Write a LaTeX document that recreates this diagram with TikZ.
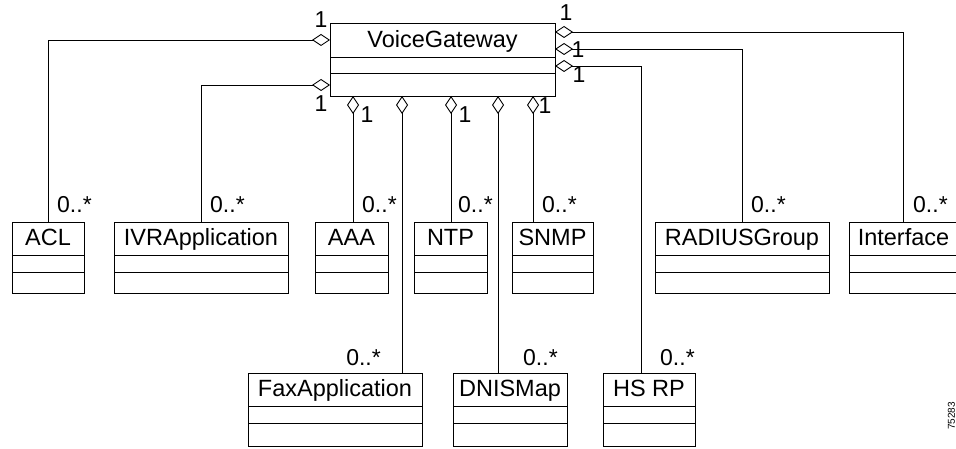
\documentclass[tikz,border=0pt]{standalone}
\usepackage{fontspec}
\setmainfont{Liberation Sans}
\usetikzlibrary{arrows.meta,calc}

% UML class with a name compartment and two empty compartments
% #1 node name, #2 x, #3 y (top left), #4 width, #5 height, #6 class name
\newcommand\umlclass[6]{%
  \node[classbox, minimum width=#4pt, minimum height=#5pt, anchor=north west] (#1) at (#2,#3) {};
  \draw[compline] ($(#1.north west)+(0,33)$) -- ($(#1.north east)+(0,33)$);
  \draw[compline] ($(#1.north west)+(0,50)$) -- ($(#1.north east)+(0,50)$);
  \node[classname, anchor=base] (#1-t) at ($(#1.north)+(0,23.5)$) {#6};
}

\tikzset{
  classbox/.style={draw, line width=0.9pt, inner sep=0pt, outer sep=0pt},
  compline/.style={line width=0.9pt},
  classname/.style={inner sep=0pt, font=\fontsize{23.5}{28}\selectfont},
  mult/.style={inner sep=0pt, font=\fontsize{23}{27}\selectfont},
  agg/.style={line width=0.9pt, -{Diamond[open, length=18pt, width=12pt, line width=0.9pt]}},
}

\begin{document}
\begin{tikzpicture}[x=1pt, y=-1pt]
\useasboundingbox (0,0) rectangle (956,449);

% central class
\node[classbox, minimum width=225pt, minimum height=73pt, anchor=north west] (vg) at (330,23) {};
\draw[compline] ($(vg.north west)+(0,34)$) -- ($(vg.north east)+(0,34)$);
\draw[compline] ($(vg.north west)+(0,50)$) -- ($(vg.north east)+(0,50)$);
\node[classname, anchor=base] (vg-t) at ($(vg.north)+(0,25)$) {VoiceGateway};

% first row of classes
\umlclass{acl}{12}{222}{72}{71}{ACL}
\umlclass{ivr}{114}{222}{174}{71}{IVRApplication}
\umlclass{aaa}{315}{222}{73}{71}{AAA}
\umlclass{ntp}{414}{222}{73}{71}{NTP}
\umlclass{snmp}{512}{222}{81}{71}{SNMP}
\umlclass{radius}{655}{222}{174}{71}{RADIUSGroup}
\umlclass{iface}{849}{222}{109}{71}{Interface}

% second row of classes
\umlclass{fax}{248}{373}{174}{73}{FaxApplication}
\umlclass{dnis}{453}{373}{114}{73}{DNISMap}
\umlclass{hsrp}{603}{373}{92}{73}{HS RP}

% attachment points of the vertical connectors
\coordinate (aaa-up) at ($(aaa.north)+(1.5,0)$);
\coordinate (fax-up) at ($(fax.north)+(67,0)$);
\coordinate (ntp-up) at ($(ntp.north)+(0.5,0)$);
\coordinate (dnis-up) at ($(dnis.north)+(-12,0)$);
\coordinate (snmp-up) at ($(snmp.north)+(-19.5,0)$);
\coordinate (hsrp-up) at ($(hsrp.north)+(-8,0)$);
\coordinate (iface-up) at ($(iface.north)+(-0.5,0)$);

% aggregations on the left side
\draw[agg] (acl.north) |- ($(vg.north west)+(0,17)$);
\draw[agg] (ivr.north) |- ($(vg.north west)+(0,62)$);

% aggregations below
\draw[agg] (aaa-up) -- (aaa-up |- vg.south);
\draw[agg] (fax-up) -- (fax-up |- vg.south);
\draw[agg] (ntp-up) -- (ntp-up |- vg.south);
\draw[agg] (dnis-up) -- (dnis-up |- vg.south);
\draw[agg] (snmp-up) -- (snmp-up |- vg.south);

% aggregations on the right side
\draw[agg] (iface-up) |- ($(vg.north east)+(0,9)$);
\draw[agg] (radius.north) |- ($(vg.north east)+(0,26)$);
\draw[agg] (hsrp-up) |- ($(vg.north east)+(0,43)$);

% multiplicities at the VoiceGateway end
\node[mult] (m1) at ($(vg.north west)+(-9,-3)$) {1};
\node[mult] (m2) at ($(vg.north west)+(-9,81)$) {1};
\node[mult] (m3) at ($(vg.north east)+(11,-10.5)$) {1};
\node[mult] (m4) at ($(vg.north east)+(23,26.5)$) {1};
\node[mult] (m5) at ($(vg.north east)+(24,52)$) {1};
\node[mult] (m6) at ($(vg.south west)+(37,19)$) {1};
\node[mult] (m7) at ($(vg.south west)+(135,19)$) {1};
\node[mult] (m8) at ($(vg.south west)+(215,10)$) {1};

% multiplicities at the part end
\node[mult, anchor=base west] (n1) at ($(acl.north)+(9,-9)$) {0..*};
\node[mult, anchor=base west] (n2) at ($(ivr.north)+(9,-9)$) {0..*};
\node[mult, anchor=base west] (n3) at ($(aaa-up)+(9,-9)$) {0..*};
\node[mult, anchor=base west] (n4) at ($(ntp-up)+(7,-9)$) {0..*};
\node[mult, anchor=base west] (n5) at ($(snmp-up)+(9,-9)$) {0..*};
\node[mult, anchor=base west] (n6) at ($(radius.north)+(9,-9)$) {0..*};
\node[mult, anchor=base west] (n7) at ($(iface-up)+(10,-9)$) {0..*};
\node[mult, anchor=base east] (n8) at ($(fax-up)+(-21,-8)$) {0..*};
\node[mult, anchor=base west] (n9) at ($(dnis-up)+(25,-8)$) {0..*};
\node[mult, anchor=base west] (n10) at ($(hsrp-up)+(19,-8)$) {0..*};

% figure number
\node[rotate=90, inner sep=0pt, font=\fontsize{10}{12}\selectfont] (fig) at (951.5,416) {75283};
\end{tikzpicture}
\end{document}
